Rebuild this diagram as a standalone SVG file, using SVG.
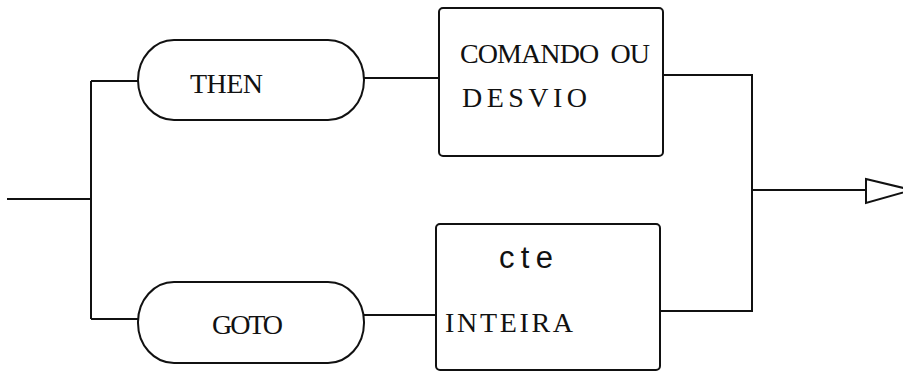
<svg xmlns="http://www.w3.org/2000/svg" width="903" height="372" viewBox="0 0 903 372">
  <style>
    .shape { fill: none; stroke: #111; stroke-width: 2; }
    .wire { fill: none; stroke: #111; stroke-width: 2; }
    .lbl { font-family: "Liberation Serif", "DejaVu Serif", "Times New Roman", serif; font-size: 28px; fill: #111; }
    .lbl-sans { font-family: "Liberation Sans", "DejaVu Sans", Arial, sans-serif; font-size: 31px; fill: #111; }
  </style>
  <rect width="903" height="372" fill="#fff"/>

  <!-- connectors -->
  <g id="connectors">
    <path class="wire" d="M7,199 H91"/>
    <path class="wire" d="M91,81 V319"/>
    <path class="wire" d="M91,81 H138"/>
    <path class="wire" d="M91,319 H138"/>
    <path class="wire" d="M364,78 H439"/>
    <path class="wire" d="M364,315 H436"/>
    <path class="wire" d="M663,75 H752 V311 H660"/>
    <path class="wire" d="M752,190 H866"/>
    <polygon class="shape" points="866,179 912,190 866,203"/>
  </g>

  <!-- THEN terminal -->
  <g id="node-then">
    <rect class="shape" x="138" y="40" width="226" height="80" rx="36" ry="40"/>
    <text class="lbl" x="190" y="93" textLength="73" lengthAdjust="spacing">THEN</text>
  </g>

  <!-- GOTO terminal -->
  <g id="node-goto">
    <rect class="shape" x="138" y="282" width="226" height="81" rx="36" ry="40"/>
    <text class="lbl" x="212" y="334" textLength="71" lengthAdjust="spacing">GOTO</text>
  </g>

  <!-- COMANDO OU DESVIO box -->
  <g id="node-comando">
    <rect class="shape" x="439" y="8" width="224" height="148" rx="4"/>
    <text class="lbl" x="460" y="63" textLength="190" lengthAdjust="spacing" xml:space="preserve">COMANDO  OU</text>
    <text class="lbl" x="462" y="107" textLength="125" lengthAdjust="spacing">DESVIO</text>
  </g>

  <!-- cte INTEIRA box -->
  <g id="node-cte">
    <rect class="shape" x="436" y="224" width="224" height="146" rx="4"/>
    <text class="lbl-sans" x="499" y="268" textLength="54" lengthAdjust="spacing">cte</text>
    <text class="lbl" x="445" y="332" textLength="128" lengthAdjust="spacing">INTEIRA</text>
  </g>
</svg>
